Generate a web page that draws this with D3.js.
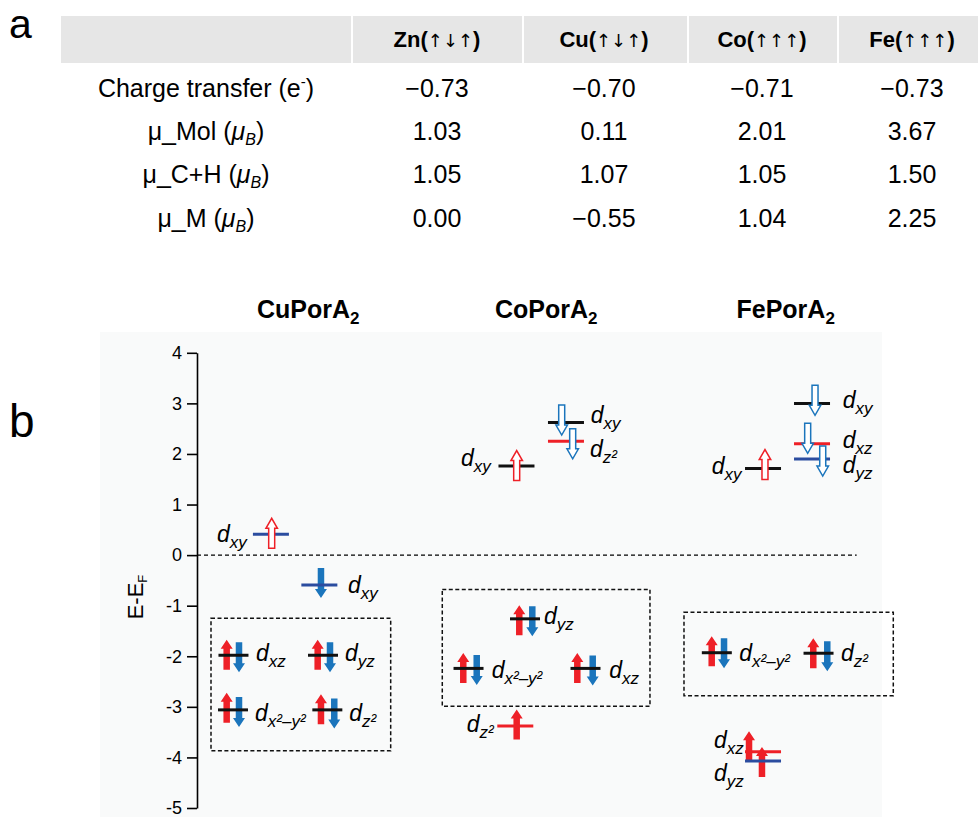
<!DOCTYPE html>
<html><head><meta charset="utf-8">
<script src="https://cdn.jsdelivr.net/npm/d3@7"></script>
<style>
body{margin:0;background:#fff}
svg{display:block}
text{font-family:"Liberation Sans",Arial,Helvetica,sans-serif;fill:#000}
</style>
</head><body>
<svg id="chart" width="979" height="817"></svg>
<script>
// ---------- Panel a : table ----------
const metals = ["Zn", "Cu", "Co", "Fe"];
const metalSpins = ["↑↓↑", "↑↓↑", "↑↑↑", "↑↑↑"];
const rowNames = ["Charge transfer", "μ_Mol", "μ_C+H", "μ_M"];
const chargeTransfer = [-0.73, -0.70, -0.71, -0.73];
const muMol = [1.03, 0.11, 2.01, 3.67];
const muCH = [1.05, 1.07, 1.05, 1.50];
const muM = [0.00, -0.55, 1.04, 2.25];

// ---------- Panel b : d-orbital level diagram ----------
const molecules = ["CuPorA", "CoPorA", "FePorA"];
const moleculeSlots = [1.59, 4.99, 8.41];
const energyTicks = [-5, -4, -3, -2, -1, 0, 1, 2, 3, 4];

// levels: [orbital, slot, energy (eV), line colour key, paired]
const cuLevels = [
  ["xy", 1.056, 0.41, "blue", false],
  ["xy", 1.748, -0.59, "blue", false],
  ["xz", 0.521, -1.98, "black", true],
  ["yz", 1.800, -1.98, "black", true],
  ["x2-y2", 0.514, -3.06, "black", true],
  ["z2", 1.862, -3.06, "black", true]
];
const coLevels = [
  ["xy", 4.564, 1.76, "black", false],
  ["xy", 5.271, 2.62, "black", false],
  ["z2", 5.271, 2.25, "red", false],
  ["yz", 4.686, -1.26, "black", true],
  ["x2-y2", 3.879, -2.24, "black", true],
  ["xz", 5.550, -2.24, "black", true],
  ["z2", 4.547, -3.38, "red", false]
];
const feLevels = [
  ["xy", 8.086, 1.71, "black", false],
  ["xy", 8.786, 3.00, "black", false],
  ["xz", 8.786, 2.20, "red", false],
  ["yz", 8.786, 1.90, "blue", false],
  ["x2-y2", 7.426, -1.93, "black", true],
  ["z2", 8.879, -1.94, "black", true],
  ["xz", 8.086, -3.89, "red", false],
  ["yz", 8.086, -4.07, "blue", false]
];

// electrons: [slot, energy at arrow centre, spin, filled]
const cuSpins = [
  [1.067, 0.43, "up", false],
  [1.771, -0.55, "down", true],
  [0.424, -1.97, "up", true], [0.600, -2.02, "down", true],
  [1.724, -1.97, "up", true], [1.900, -2.02, "down", true],
  [0.424, -3.02, "up", true], [0.600, -3.10, "down", true],
  [1.771, -3.05, "up", true], [1.961, -3.13, "down", true]
];
const coSpins = [
  [4.567, 1.77, "up", false],
  [5.210, 2.67, "down", false],
  [5.367, 2.20, "down", false],
  [4.604, -1.29, "up", true], [4.790, -1.31, "down", true],
  [3.804, -2.23, "up", true], [3.996, -2.27, "down", true],
  [5.433, -2.23, "up", true], [5.653, -2.28, "down", true],
  [4.567, -3.35, "up", true]
];
const feSpins = [
  [8.114, 1.79, "up", false],
  [8.829, 3.06, "down", false],
  [8.724, 2.31, "down", false],
  [8.939, 1.86, "down", false],
  [7.353, -1.90, "up", true], [7.529, -1.94, "down", true],
  [8.804, -1.94, "up", true], [9.004, -2.00, "down", true],
  [7.886, -3.78, "up", true],
  [8.071, -4.09, "up", true]
];

// orbital labels: [orbital, slot, energy of baseline]
const cuLabels = [["xy", 0.286, 0.25], ["xy", 2.157, -0.74], ["xz", 0.843, -2.10], ["yz", 2.114, -2.10], ["x2-y2", 0.829, -3.27], ["z2", 2.176, -3.27]];
const coLabels = [["xy", 3.771, 1.76], ["xy", 5.624, 2.62], ["z2", 5.614, 1.93], ["yz", 4.957, -1.36], ["x2-y2", 4.210, -2.42], ["xz", 5.890, -2.42], ["z2", 3.853, -3.50]];
const feLabels = [["xy", 7.353, 1.60], ["xy", 9.224, 2.91], ["xz", 9.224, 2.12], ["yz", 9.224, 1.63], ["x2-y2", 7.747, -2.10], ["z2", 9.200, -2.10], ["xz", 7.386, -3.81], ["yz", 7.386, -4.47]];

// dashed groups: [slot0, slot1, energy top, energy bottom]
const groupBoxes = [[0.20, 2.767, -1.25, -3.87], [3.504, 6.471, -0.68, -2.99], [6.957, 9.947, -1.13, -2.78]];
const fermiLine = [0, 9.424];

// ================= drawing =================
const svg = d3.select("#chart");
svg.append("rect").attr("width", 979).attr("height", 817).attr("fill", "#fff");

// ---- panel a ----
svg.append("text").attr("x", 9).attr("y", 38).attr("font-size", 41).text("a");

const cellEdges = [60, 352, 523, 688, 838, 979];
svg.append("g").selectAll("rect").data(d3.pairs(cellEdges)).join("rect")
  .attr("x", d => d[0] + 1).attr("y", 16).attr("width", d => d[1] - d[0] - 2).attr("height", 47)
  .attr("fill", "#e6e6e6");

const colX = d3.scaleOrdinal().domain(metals).range([437, 604, 762, 912]);
const rowY = d3.scalePoint().domain(rowNames).range([96.7, 226.7]);
const fmt = d3.format(".2f");

const hdr = svg.append("g").selectAll("text").data(metals).join("text")
  .attr("x", d => colX(d)).attr("y", 47).attr("text-anchor", "middle")
  .attr("font-size", 22).attr("font-weight", "bold");
hdr.append("tspan").text(d => d + "(");
hdr.append("tspan").attr("font-family", '"DejaVu Sans",sans-serif').attr("font-weight", "normal")
  .attr("font-size", 18).text((d, i) => metalSpins[i]);
hdr.append("tspan").text(")");

const tableRows = [chargeTransfer, muMol, muCH, muM];
tableRows.forEach((vals, i) => {
  const g = svg.append("g");
  g.selectAll("text").data(vals).join("text")
    .attr("x", (d, j) => colX(metals[j])).attr("y", rowY(rowNames[i]))
    .attr("text-anchor", "middle").attr("font-size", 25).text(d => fmt(d));
  const t = svg.append("text").attr("x", 206).attr("y", rowY(rowNames[i]))
    .attr("text-anchor", "middle").attr("font-size", 25);
  if (i === 0) {
    t.append("tspan").text(rowNames[i] + " (e");
    t.append("tspan").attr("font-size", 15).attr("dy", -10).text("-");
    t.append("tspan").attr("dy", 10).text(")");
  } else {
    t.append("tspan").text(rowNames[i] + " (");
    t.append("tspan").attr("font-style", "italic").text("μ");
    t.append("tspan").attr("font-style", "italic").attr("font-size", 16).attr("dy", 5).text("B");
    t.append("tspan").attr("dy", -5).text(")");
  }
});

// ---- panel b ----
svg.append("rect").attr("x", 100).attr("y", 332).attr("width", 782).attr("height", 485).attr("fill", "#f9fafa");
svg.append("text").attr("x", 9).attr("y", 437).attr("font-size", 46).text("b");

const x = d3.scaleLinear().domain([0, 10]).range([197, 897]);
const y = d3.scaleLinear().domain([-5, 4]).range([808, 352.8]);

// titles
const titles = svg.append("g").selectAll("text").data(molecules).join("text")
  .attr("x", (d, i) => x(moleculeSlots[i])).attr("y", 318).attr("text-anchor", "middle")
  .attr("font-size", 25).attr("font-weight", "bold");
titles.append("tspan").text(d => d);
titles.append("tspan").attr("font-size", 17).attr("dy", 6).text("2");

// axis
const axis = d3.axisLeft(y).tickValues(energyTicks).tickSize(10).tickSizeOuter(0).tickPadding(5)
  .tickFormat(d => String(d));
const ag = svg.append("g").attr("transform", `translate(${x(0)},0)`).call(axis);
ag.select(".domain").attr("stroke", "#000").attr("stroke-width", 1.6);
ag.selectAll(".tick line").attr("stroke", "#000").attr("stroke-width", 1.6);
ag.selectAll(".tick text").attr("font-size", 18).attr("fill", "#000")
  .attr("font-family", '"Liberation Sans",Arial,sans-serif');

const yl = svg.append("text").attr("transform", `translate(143,597) rotate(-90)`)
  .attr("text-anchor", "middle").attr("font-size", 22);
yl.append("tspan").text("E-E");
yl.append("tspan").attr("font-size", 13).attr("dy", 4).text("F");

// Fermi level
svg.append("line").attr("x1", x(fermiLine[0])).attr("x2", x(fermiLine[1]))
  .attr("y1", y(0)).attr("y2", y(0)).attr("stroke", "#000").attr("stroke-width", 1.3)
  .attr("stroke-dasharray", "4,3");

// group boxes
svg.append("g").selectAll("rect").data(groupBoxes).join("rect")
  .attr("x", d => x(d[0])).attr("y", d => y(d[2]))
  .attr("width", d => x(d[1]) - x(d[0])).attr("height", d => y(d[3]) - y(d[2]))
  .attr("fill", "none").attr("stroke", "#111").attr("stroke-width", 1.5).attr("stroke-dasharray", "4,2.5");

const lineColor = d3.scaleOrdinal().domain(["black", "red", "blue"]).range(["#111111", "#ee2027", "#2b4c9f"]);
const spinColor = d3.scaleOrdinal().domain(["up", "down"]).range(["#ee2027", "#1b75bc"]);

const allLevels = cuLevels.concat(coLevels, feLevels);
const allSpins = cuSpins.concat(coSpins, feSpins);
const allLabels = cuLabels.concat(coLabels, feLabels);

function arrowPath(cx, cy, dir, len, sw, hw, hl) {
  const s = dir === "up" ? -1 : 1;
  const tip = cy + s * len / 2, base = cy - s * len / 2, neck = tip - s * hl;
  return `M${cx - sw / 2},${base}L${cx - sw / 2},${neck}L${cx - hw / 2},${neck}L${cx},${tip}` +
    `L${cx + hw / 2},${neck}L${cx + sw / 2},${neck}L${cx + sw / 2},${base}Z`;
}

// filled arrows (below level lines)
svg.append("g").selectAll("path").data(allSpins.filter(d => d[3])).join("path")
  .attr("d", d => arrowPath(x(d[0]), y(d[1]), d[2], 30, 6.5, 12, 9))
  .attr("fill", d => spinColor(d[2]));

// level lines
svg.append("g").selectAll("line").data(allLevels).join("line")
  .attr("x1", d => x(d[1]) - (d[4] ? 15 : 18)).attr("x2", d => x(d[1]) + (d[4] ? 15 : 18))
  .attr("y1", d => y(d[2])).attr("y2", d => y(d[2]))
  .attr("stroke", d => lineColor(d[3])).attr("stroke-width", 3);

// hollow arrows (above level lines)
svg.append("g").selectAll("path").data(allSpins.filter(d => !d[3])).join("path")
  .attr("d", d => arrowPath(x(d[0]), y(d[1]), d[2], 30, 6, 11.5, 10))
  .attr("fill", "#fff").attr("stroke", d => spinColor(d[2])).attr("stroke-width", 1.5)
  .attr("stroke-linejoin", "miter");

// orbital labels
const subText = { "xy": "xy", "xz": "xz", "yz": "yz", "z2": "z²", "x2-y2": "x²–y²" };
const lab = svg.append("g").selectAll("text").data(allLabels).join("text")
  .attr("x", d => x(d[1])).attr("y", d => y(d[2]))
  .attr("font-size", 23).attr("font-style", "italic");
lab.append("tspan").text("d");
lab.append("tspan").attr("font-size", 17).attr("dy", 6).text(d => subText[d[0]]);
</script>
</body></html>
